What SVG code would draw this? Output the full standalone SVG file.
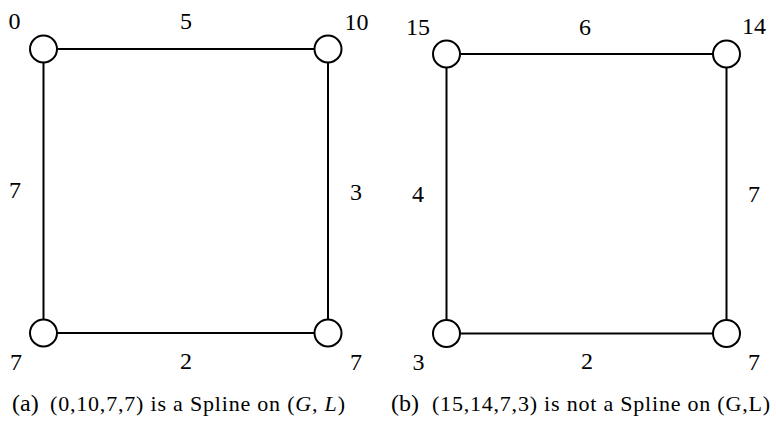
<svg xmlns="http://www.w3.org/2000/svg" width="776" height="423" viewBox="0 0 776 423">
<style>
.e{stroke:#000;stroke-width:2;fill:none}
.n{stroke:#000;stroke-width:2;fill:#fff}
text{font-family:"Liberation Serif","Times New Roman",serif;fill:#000}
.l{font-size:24px;text-anchor:middle}
.c{font-size:22px}
.cl{font-size:24px}
</style>
<rect width="776" height="423" fill="#fff"/>
<g id="connectors">
<line class="e" x1="43.5" y1="49" x2="328" y2="49"/>
<line class="e" x1="43.5" y1="49" x2="43.5" y2="333"/>
<line class="e" x1="328" y1="49" x2="328" y2="333"/>
<line class="e" x1="43.5" y1="333" x2="328" y2="333"/>
<line class="e" x1="446.5" y1="54" x2="726.5" y2="54"/>
<line class="e" x1="446.5" y1="54" x2="446.5" y2="333.5"/>
<line class="e" x1="726.5" y1="54" x2="726.5" y2="333.5"/>
<line class="e" x1="446.5" y1="333.5" x2="726.5" y2="333.5"/>
</g>
<g id="edge-labels">
<text class="l" x="186" y="29">5</text>
<text class="l" x="15" y="198">7</text>
<text class="l" x="356" y="200">3</text>
<text class="l" x="186" y="369">2</text>
<text class="l" x="585" y="35">6</text>
<text class="l" x="418" y="202">4</text>
<text class="l" x="754" y="202">7</text>
<text class="l" x="587" y="369">2</text>
</g>
<g id="a-tl"><circle class="n" cx="43.5" cy="49" r="13.5"/><text class="l" x="14.5" y="29">0</text></g>
<g id="a-tr"><circle class="n" cx="328" cy="49" r="13.5"/><text class="l" x="356.5" y="30">10</text></g>
<g id="a-bl"><circle class="n" cx="43.5" cy="333" r="13.5"/><text class="l" x="16" y="370">7</text></g>
<g id="a-br"><circle class="n" cx="328" cy="333" r="13.5"/><text class="l" x="356" y="370">7</text></g>
<g id="b-tl"><circle class="n" cx="446.5" cy="54" r="13.5"/><text class="l" x="418" y="35">15</text></g>
<g id="b-tr"><circle class="n" cx="726.5" cy="54" r="13.5"/><text class="l" x="754" y="34">14</text></g>
<g id="b-bl"><circle class="n" cx="446.5" cy="333.5" r="13.5"/><text class="l" x="418.5" y="370">3</text></g>
<g id="b-br"><circle class="n" cx="726.5" cy="333.5" r="13.5"/><text class="l" x="754" y="370">7</text></g>
<g id="captions">
<text class="cl" x="12" y="411">(a)</text>
<text class="c" x="50" y="411" textLength="295" lengthAdjust="spacing">(0,10,7,7) is a Spline on (<tspan font-style="italic">G</tspan>, <tspan font-style="italic">L</tspan>)</text>
<text class="cl" x="391" y="411">(b)</text>
<text class="c" x="432" y="411" textLength="338" lengthAdjust="spacing">(15,14,7,3) is not a Spline on (G,L)</text>
</g>
</svg>
